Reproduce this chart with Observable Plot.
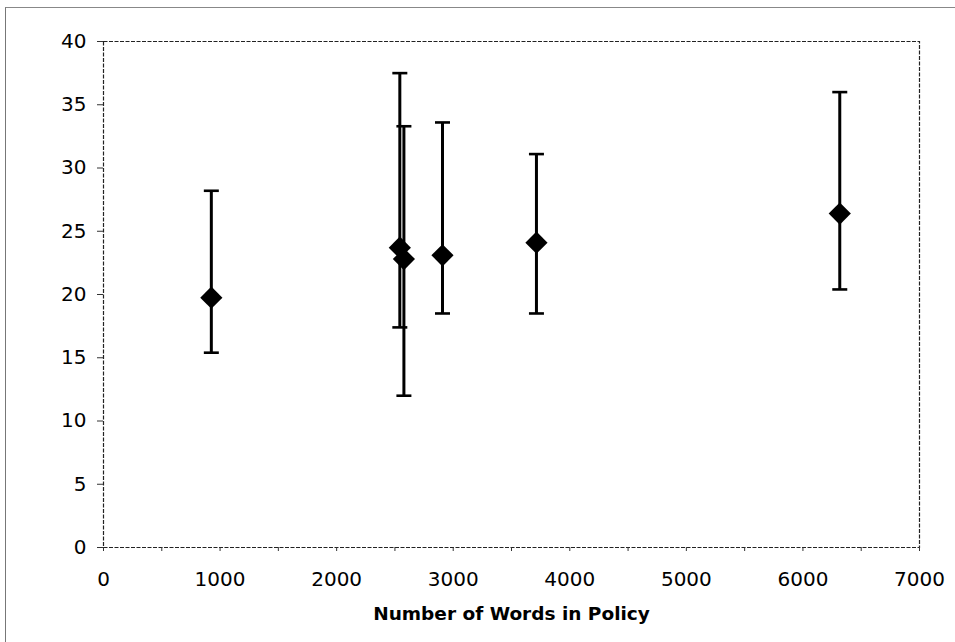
<!DOCTYPE html>
<html>
<head>
<meta charset="utf-8">
<script src="https://cdn.jsdelivr.net/npm/d3@7"></script>
<script src="https://cdn.jsdelivr.net/npm/@observablehq/plot@0.6"></script>
<style>
  html, body { margin: 0; padding: 0; background: #fff; }
  #wrap { position: relative; width: 955px; height: 642px; overflow: hidden; }
  #edge { position: absolute; left: 5px; top: 7px; width: 1200px; height: 1200px;
          border-left: 1px solid #777; border-top: 1px solid #888; pointer-events: none; }
  svg { font-family: "DejaVu Sans", Verdana, sans-serif; }
</style>
</head>
<body>
<div id="wrap"><div id="edge"></div></div>
<script>
// Data
const words = [925, 2542, 2577, 2908, 3714, 6316];
const means = [19.75, 23.7, 22.8, 23.1, 24.1, 26.4];
const upper = [28.2, 37.5, 33.3, 33.6, 31.1, 36.0];
const lower = [15.4, 17.4, 12.0, 18.5, 18.5, 20.4];
const xTicks = [0, 500, 1000, 1500, 2000, 2500, 3000, 3500, 4000, 4500, 5000, 5500, 6000, 6500, 7000];
const yTicks = [0, 5, 10, 15, 20, 25, 30, 35, 40];
const xLabel = "Number of Words in Policy";

const data = words.map((w, i) => ({x: w, y: means[i], hi: upper[i], lo: lower[i]}));
const caps = data.flatMap(d => [{x: d.x, y: d.hi}, {x: d.x, y: d.lo}]);

const capSymbol = {
  draw(ctx, size) {
    const r = Math.sqrt(size / Math.PI);
    ctx.moveTo(-r, 0);
    ctx.lineTo(r, 0);
  }
};

const chart = Plot.plot({
  width: 955,
  height: 642,
  marginLeft: 103,
  marginRight: 36,
  marginTop: 41,
  marginBottom: 95,
  style: {fontFamily: "'DejaVu Sans', Verdana, sans-serif", fontSize: "20px", color: "#000", background: "transparent"},
  x: {domain: [0, 7000]},
  y: {domain: [0, 40]},
  marks: [
    Plot.frame({stroke: "#222", strokeWidth: 1.2, strokeDasharray: "4,1.5"}),
    Plot.axisY({ticks: yTicks, tickSize: 6, tickPadding: 11, fontSize: 20, label: null, stroke: "#333"}),
    Plot.axisX({ticks: xTicks, tickSize: 4, tickPadding: 20, fontSize: 20, label: null,
      tickFormat: d => d % 1000 === 0 ? String(d) : "", stroke: "#333"}),
    Plot.ruleX(data, {x: "x", y1: "lo", y2: "hi", stroke: "#000", strokeWidth: 3}),
    Plot.dot(caps, {x: "x", y: "y", symbol: capSymbol, r: 7.5, stroke: "#000", strokeWidth: 2.6, fill: "none"}),
    Plot.dot(data, {x: "x", y: "y", symbol: "diamond2", r: 10, fill: "#000", stroke: "none"}),
    Plot.text([xLabel], {frameAnchor: "bottom", dy: 72, fontWeight: "bold", fontSize: 18.5, fill: "#000"})
  ]
});
document.getElementById("wrap").prepend(chart);
</script>
</body>
</html>
